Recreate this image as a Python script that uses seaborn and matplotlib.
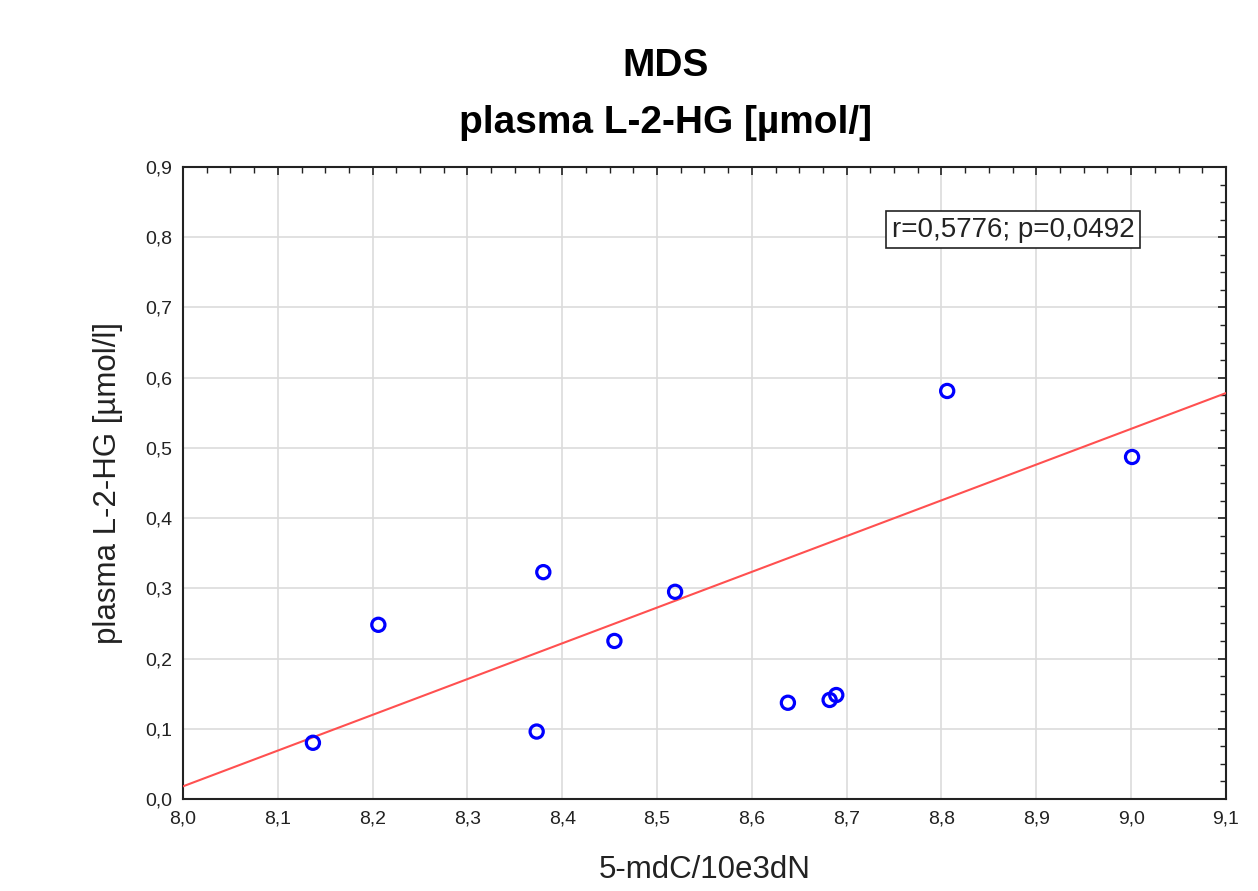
import numpy as np
import pandas as pd
import matplotlib
matplotlib.use("Agg")
import matplotlib.pyplot as plt
from matplotlib.ticker import MultipleLocator, AutoMinorLocator, FuncFormatter
import seaborn as sns

# values
mdc = [8.137, 8.206, 8.373, 8.380, 8.455, 8.519, 8.638, 8.682, 8.689, 8.806, 9.001]
l2hg = [0.080, 0.248, 0.096, 0.323, 0.225, 0.295, 0.137, 0.141, 0.148, 0.581, 0.487]
# fitted line as drawn in the reference (value at each end of the x range)
fit_x = [8.0, 9.1]
fit_y = [0.018, 0.578]
stat_text = "r=0,5776; p=0,0492"

df = pd.DataFrame({"x": mdc, "y": l2hg})
fit = pd.DataFrame({"x": fit_x, "y": fit_y})

sns.set_style("white")
plt.rcParams["font.family"] = ["Liberation Sans", "DejaVu Sans"]

fig = plt.figure(figsize=(12.58, 8.91), dpi=100)
ax = fig.add_axes([0.1455, 0.1033, 0.829, 0.7093])

sns.lineplot(data=fit, x="x", y="y", ax=ax, color="#ff5050", lw=1.5, zorder=3)
sns.scatterplot(data=df, x="x", y="y", ax=ax, s=90, facecolors="none",
                edgecolor="#0000ff", linewidth=2.3, zorder=4)

ax.set_xlim(8.0, 9.1)
ax.set_ylim(0.0, 0.9)

comma = FuncFormatter(lambda v, p: f"{v:.1f}".replace(".", ","))
ax.xaxis.set_major_locator(MultipleLocator(0.1))
ax.yaxis.set_major_locator(MultipleLocator(0.1))
ax.xaxis.set_minor_locator(AutoMinorLocator(4))
ax.yaxis.set_minor_locator(AutoMinorLocator(4))
ax.xaxis.set_major_formatter(comma)
ax.yaxis.set_major_formatter(comma)

ax.grid(True, which="major", color="#dcdcdc", lw=1.2)
ax.set_axisbelow(True)
for sp in ax.spines.values():
    sp.set_color("#222222")
    sp.set_linewidth(1.5)
ax.tick_params(which="both", direction="in", top=True, right=True,
               color="#222222", labelsize=14, labelcolor="#222222", pad=8)
ax.tick_params(which="major", length=6, width=1.2)
ax.tick_params(which="minor", length=4, width=1.0)

ax.set_xlabel("5-mdC/10e3dN", fontsize=22.5, color="#222222", labelpad=20)
ax.set_ylabel("plasma L-2-HG [µmol/l]", fontsize=22.5, color="#222222", labelpad=16)

ax.text(0.912, 0.921, stat_text, transform=ax.transAxes, ha="right", va="top",
        fontsize=20, color="#222222", zorder=5,
        bbox=dict(boxstyle="square,pad=0.2", fc="white", ec="#222222", lw=1.2))

fig.text(0.529, 0.926, "MDS", ha="center", va="center", fontsize=28,
         fontweight="bold", color="black")
fig.text(0.529, 0.862, "plasma L-2-HG [µmol/]", ha="center", va="center",
         fontsize=28, fontweight="bold", color="black")

fig.savefig("out.png", dpi=100)
